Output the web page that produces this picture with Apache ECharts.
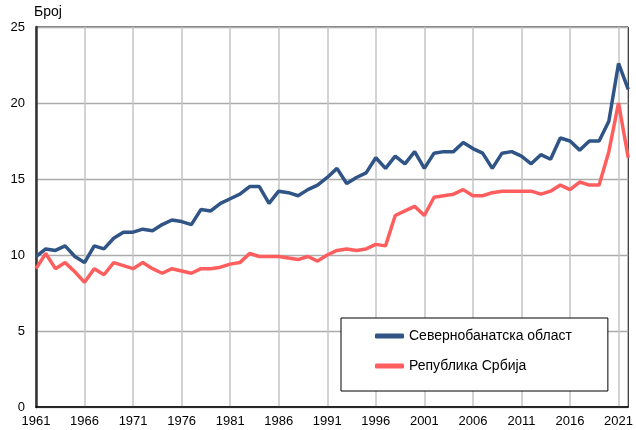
<!DOCTYPE html>
<html>
<head>
<meta charset="utf-8">
<script src="https://cdn.jsdelivr.net/npm/echarts@6/dist/echarts.min.js"></script>
<style>
html,body{margin:0;padding:0;background:#fff;}
#chart{width:636px;height:430px;}
</style>
</head>
<body>
<div id="chart"></div>
<script>
const years = [];
for (let y = 1961; y <= 2022; y++) years.push(String(y));

const seriesNames = ['Севернобанатска област', 'Република Србија'];

const severnobanatska = [
  9.9, 10.4, 10.3, 10.6, 9.9, 9.5, 10.6, 10.4, 11.1, 11.5,
  11.5, 11.7, 11.6, 12.0, 12.3, 12.2, 12.0, 13.0, 12.9, 13.4,
  13.7, 14.0, 14.5, 14.5, 13.4, 14.2, 14.1, 13.9, 14.3, 14.6,
  15.1, 15.7, 14.7, 15.1, 15.4, 16.4, 15.7, 16.5, 16.0, 16.8,
  15.7, 16.7, 16.8, 16.8, 17.4, 17.0, 16.7, 15.7, 16.7, 16.8,
  16.5, 16.0, 16.6, 16.3, 17.7, 17.5, 16.9, 17.5, 17.5, 18.8,
  22.6, 20.9
];

const srbija = [
  9.1, 10.1, 9.1, 9.5, 8.9, 8.2, 9.1, 8.7, 9.5, 9.3,
  9.1, 9.5, 9.1, 8.8, 9.1, 8.95, 8.8, 9.1, 9.1, 9.2,
  9.4, 9.5, 10.1, 9.9, 9.9, 9.9, 9.8, 9.7, 9.9, 9.6,
  10.0, 10.3, 10.4, 10.3, 10.4, 10.7, 10.6, 12.6, 12.9, 13.2,
  12.6, 13.8, 13.9, 14.0, 14.3, 13.9, 13.9, 14.1, 14.2, 14.2,
  14.2, 14.2, 14.0, 14.2, 14.6, 14.3, 14.8, 14.6, 14.6, 16.8,
  20.0, 16.4
];

const yTicks = { min: 0, max: 25, interval: 5 };
const yAxisName = 'Број';

const chart = echarts.init(document.getElementById('chart'), null, {renderer: 'canvas'});
const font = 'Liberation Sans, Arial, sans-serif';
chart.setOption({
  animation: false,
  textStyle: { fontFamily: font },
  grid: {
    left: 36, right: 4, top: 27, bottom: 23,
    show: true, borderColor: '#000', borderWidth: 1, backgroundColor: 'transparent'
  },
  legend: {
    orient: 'vertical',
    left: 341, top: 318,
    backgroundColor: '#fff',
    borderColor: '#000', borderWidth: 1,
    padding: [11, 36, 18, 34],
    itemGap: 16,
    itemWidth: 29, itemHeight: 5,
    icon: 'roundRect',
    textStyle: { fontFamily: font, fontSize: 14, color: '#000' },
    data: seriesNames
  },
  xAxis: {
    type: 'category',
    data: years,
    boundaryGap: false,
    axisLine: { lineStyle: { color: '#000', width: 1.5 } },
    axisTick: { show: false },
    axisLabel: { interval: 4, color: '#000', fontSize: 13, fontFamily: font, margin: 8 },
    splitLine: { show: true, interval: 4, lineStyle: { color: '#c4c4c4', width: 1.5 } }
  },
  yAxis: {
    type: 'value',
    min: yTicks.min, max: yTicks.max, interval: yTicks.interval,
    name: yAxisName,
    nameLocation: 'end',
    nameGap: 8,
    nameTextStyle: { align: 'left', color: '#000', fontSize: 14, fontFamily: font, padding: [0, 0, 0, -2] },
    axisLine: { show: true, lineStyle: { color: '#333', width: 2.5 } },
    axisTick: { show: false },
    axisLabel: { color: '#000', fontSize: 13, fontFamily: font, margin: 11 },
    splitLine: { show: true, lineStyle: { color: '#ababab', width: 1.3 } }
  },
  series: [
    {
      name: seriesNames[0], type: 'line', data: severnobanatska,
      symbol: 'none', color: '#2f5485',
      lineStyle: { width: 3.5, color: '#2f5485' }
    },
    {
      name: seriesNames[1], type: 'line', data: srbija,
      symbol: 'none', color: '#fe5e5e',
      lineStyle: { width: 3.5, color: '#fe5e5e' }
    }
  ]
});
</script>
</body>
</html>
